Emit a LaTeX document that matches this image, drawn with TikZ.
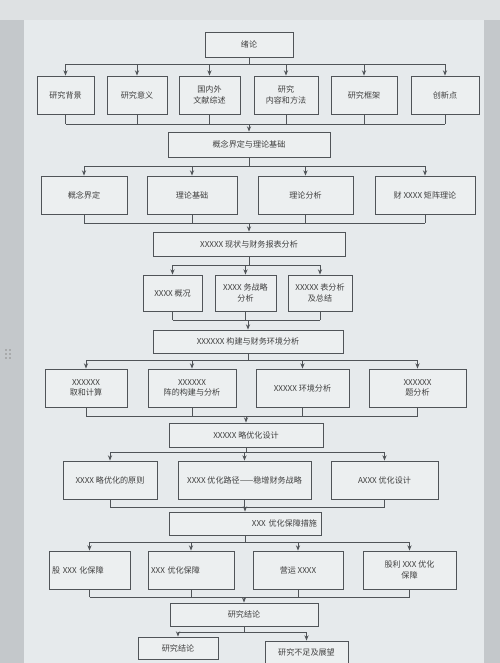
\documentclass[tikz,border=0pt]{standalone}
\usepackage{fontspec}
\newfontfamily\cjk{Noto Sans CJK SC}
\usetikzlibrary{arrows.meta}
\definecolor{pagebg}{RGB}{230,234,236}
\definecolor{outerbg}{RGB}{196,200,203}
\definecolor{toolbg}{RGB}{222,225,227}
\definecolor{boxbg}{RGB}{236,239,240}
\definecolor{inkc}{RGB}{80,84,88}
\begin{document}
\begin{tikzpicture}[x=0.02cm,y=-0.02cm,
  box/.style={draw=inkc,fill=boxbg,line width=0.5pt,inner sep=1pt,
    font=\cjk\fontsize{4.6}{5.8}\selectfont,text=black!75,align=center},
  sz/.style 2 args={minimum width=#1*0.02cm,minimum height=#2*0.02cm},
  tw/.style={text width=#1*0.02cm},
  ln/.style={draw=inkc,line width=0.5pt},
  arr/.style={ln,-{Stealth[length=3pt,width=2.4pt]}}]
% background
\useasboundingbox (0,0) rectangle (500,663);
\fill[outerbg] (0,0) rectangle (500,663);
\fill[toolbg] (0,0) rectangle (500,20);
\fill[pagebg] (24,20) rectangle (484,663);
\foreach \yy in {350,354,358}{\fill[black!45] (6,\yy) circle (0.8); \fill[black!45] (10,\yy) circle (0.8);}
% row 0
\node[box,sz={88}{25}] (zl) at (249,44.5) {绪论};
% row 1
\node[box,sz={57}{38}] (a1) at (65.5,95) {研究背景};
\node[box,sz={60}{38}] (a2) at (137,95) {研究意义};
\node[box,sz={61}{38}] (a3) at (209.5,95) {国内外\\文献综述};
\node[box,sz={64}{38}] (a4) at (286,95) {研究\\内容和方法};
\node[box,sz={66}{38}] (a5) at (364,95) {研究框架};
\node[box,sz={68}{38}] (a6) at (445,95) {创新点};
% row 2
\node[box,sz={162}{25}] (b0) at (249,144.5) {概念界定与理论基础};
\node[box,sz={86}{38}] (b1) at (84,195) {概念界定};
\node[box,sz={90}{38}] (b2) at (192,195) {理论基础};
\node[box,sz={95}{38}] (b3) at (305.5,195) {理论分析};
\node[box,sz={100}{38}] (b4) at (425,195) {财 XXXX 矩阵理论};
% row 3
\node[box,sz={192}{24}] (c0) at (249,244) {XXXXX 现状与财务报表分析};
\node[box,sz={59}{36}] (c1) at (172.5,293) {XXXX 概况};
\node[box,sz={61}{36}] (c2) at (245.5,293) {XXXX 务战略\\分析};
\node[box,sz={64}{36}] (c3) at (320,293) {XXXXX 表分析\\及总结};
% row 4
\node[box,sz={190}{23}] (d0) at (248,341.5) {XXXXXX 构建与财务环境分析};
\node[box,sz={82}{38}] (d1) at (86,388) {XXXXXX\\取和计算};
\node[box,sz={88}{38}] (d2) at (192,388) {XXXXXX\\阵的构建与分析};
\node[box,sz={93}{38}] (d3) at (302.5,388) {XXXXX 环境分析};
\node[box,sz={97}{38}] (d4) at (417.5,388) {XXXXXX\\题分析};
% row 5
\node[box,sz={154}{24}] (e0) at (246,435) {XXXXX 略优化设计};
\node[box,sz={94}{38}] (e1) at (110,480) {XXXX 略优化的原则};
\node[box,sz={133}{38}] (e2) at (244.5,480) {XXXX 优化路径——稳增财务战略};
\node[box,sz={107}{38}] (e3) at (384.5,480) {AXXX 优化设计};
% row 6
\node[box,sz={152}{23},tw={144},align=right] (f0) at (245,523.5) {XXX 优化保障措施};
\node[box,sz={81}{38},tw={75},align=left] (f1) at (89.5,570) {股 XXX 化保障};
\node[box,sz={86}{38},tw={80},align=left] (f2) at (191,570) {XXX 优化保障};
\node[box,sz={90}{38}] (f3) at (298,570) {营运 XXXX};
\node[box,sz={93}{38}] (f4) at (409.5,570) {股利 XXX 优化\\保障};
% row 7
\node[box,sz={148}{23}] (g0) at (244,614.5) {研究结论};
\node[box,sz={80}{22}] (g1) at (178,648) {研究结论};
\node[box,sz={83}{22}] (g2) at (306.5,652) {研究不足及展望};
% bus coordinates
\coordinate (t1) at (0,64);  \coordinate (u1) at (0,124);
\coordinate (t2) at (0,166); \coordinate (u2) at (0,223);
\coordinate (t3) at (0,265); \coordinate (u3) at (0,320);
\coordinate (t4) at (0,360); \coordinate (u4) at (0,416);
\coordinate (t5) at (0,452); \coordinate (u5) at (0,507);
\coordinate (t6) at (0,542); \coordinate (u6) at (0,597);
\coordinate (t7) at (0,632);
% level 1
\draw[ln] (zl.south) -- (zl.south|-t1);
\draw[ln] (a1.north|-t1) -- (a6.north|-t1);
\foreach \i in {1,...,6}{\draw[arr] (a\i.north|-t1) -- (a\i.north); \draw[ln] (a\i.south) -- (a\i.south|-u1);}
\draw[ln] (a1.south|-u1) -- (a6.south|-u1);
\draw[arr] (b0.north|-u1) -- (b0.north);
% level 2
\draw[ln] (b0.south) -- (b0.south|-t2);
\draw[ln] (b1.north|-t2) -- (b4.north|-t2);
\foreach \i in {1,...,4}{\draw[arr] (b\i.north|-t2) -- (b\i.north); \draw[ln] (b\i.south) -- (b\i.south|-u2);}
\draw[ln] (b1.south|-u2) -- (b4.south|-u2);
\draw[arr] (c0.north|-u2) -- (c0.north);
% level 3
\draw[ln] (c0.south) -- (c0.south|-t3);
\draw[ln] (c1.north|-t3) -- (c3.north|-t3);
\foreach \i in {1,...,3}{\draw[arr] (c\i.north|-t3) -- (c\i.north); \draw[ln] (c\i.south) -- (c\i.south|-u3);}
\draw[ln] (c1.south|-u3) -- (c3.south|-u3);
\draw[arr] (d0.north|-u3) -- (d0.north);
% level 4
\draw[ln] (d0.south) -- (d0.south|-t4);
\draw[ln] (d1.north|-t4) -- (d4.north|-t4);
\foreach \i in {1,...,4}{\draw[arr] (d\i.north|-t4) -- (d\i.north); \draw[ln] (d\i.south) -- (d\i.south|-u4);}
\draw[ln] (d1.south|-u4) -- (d4.south|-u4);
\draw[arr] (e0.north|-u4) -- (e0.north);
% level 5
\draw[ln] (e0.south) -- (e0.south|-t5);
\draw[ln] (e1.north|-t5) -- (e3.north|-t5);
\foreach \i in {1,...,3}{\draw[arr] (e\i.north|-t5) -- (e\i.north); \draw[ln] (e\i.south) -- (e\i.south|-u5);}
\draw[ln] (e1.south|-u5) -- (e3.south|-u5);
\draw[arr] (f0.north|-u5) -- (f0.north);
% level 6
\draw[ln] (f0.south) -- (f0.south|-t6);
\draw[ln] (f1.north|-t6) -- (f4.north|-t6);
\foreach \i in {1,...,4}{\draw[arr] (f\i.north|-t6) -- (f\i.north); \draw[ln] (f\i.south) -- (f\i.south|-u6);}
\draw[ln] (f1.south|-u6) -- (f4.south|-u6);
\draw[arr] (g0.north|-u6) -- (g0.north);
% level 7
\draw[ln] (g0.south) -- (g0.south|-t7);
\draw[ln] (g1.north|-t7) -- (g2.north|-t7);
\draw[arr] (g1.north|-t7) -- (g1.north);
\draw[arr] (g2.north|-t7) -- (g2.north);
\end{tikzpicture}
\end{document}
